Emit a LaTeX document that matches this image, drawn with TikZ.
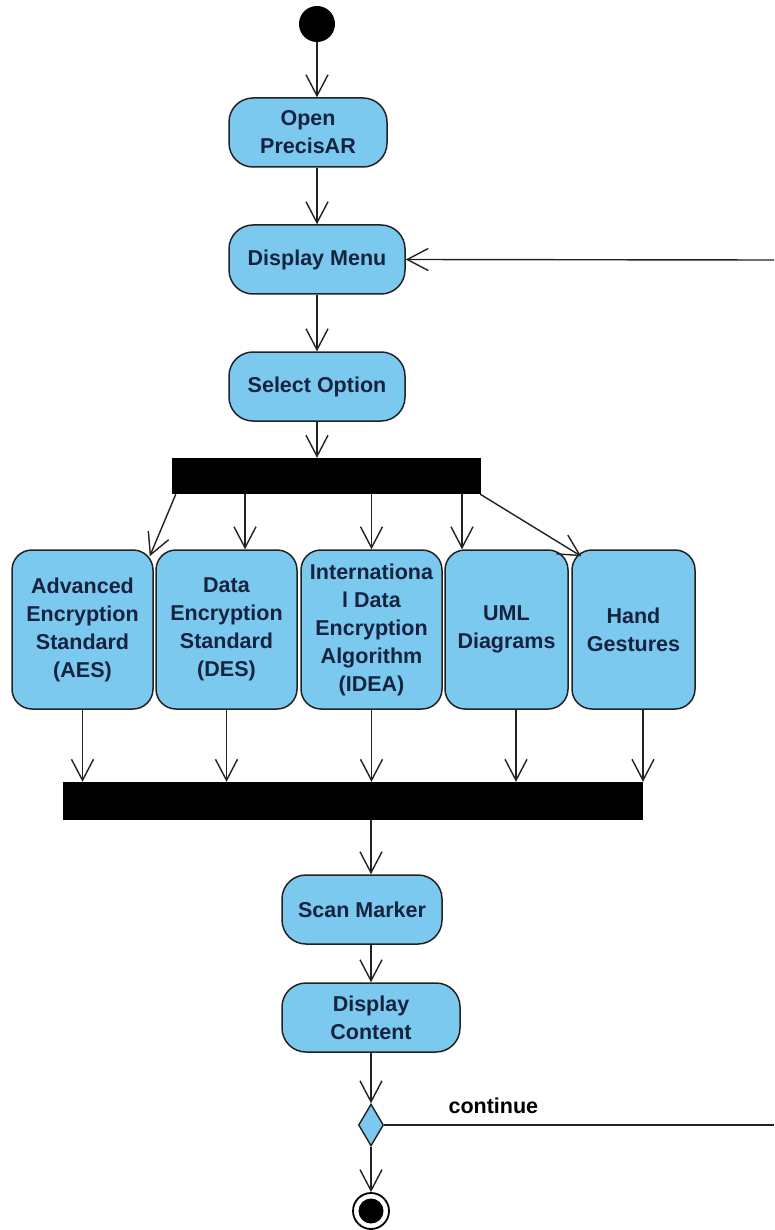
\documentclass[tikz,border=0pt]{standalone}
\usepackage{fontspec}
\setmainfont{Liberation Sans}
\usetikzlibrary{arrows.meta,shapes.geometric}
\definecolor{boxblue}{HTML}{7CC9EF}
\definecolor{txtcol}{HTML}{16233F}
\definecolor{linecol}{HTML}{222222}
\begin{document}
\begin{tikzpicture}[x=1pt,y=-1pt,
  act/.style={draw=linecol, fill=boxblue, rounded corners=24pt, line width=1.5pt,
    font=\bfseries\fontsize{21.5}{28}\selectfont, text=txtcol, align=center,
    inner sep=0pt, minimum height=69pt},
  tall/.style={act, rounded corners=20pt, minimum height=159pt},
  barnode/.style={fill=black, draw=none, inner sep=0pt},
  flow/.style={draw=linecol, line width=1.4pt,
    -{Straight Barb[length=21pt,width=22pt,line width=1.4pt]}},
  plain/.style={draw=linecol, line width=1.4pt},
]
\fill[white] (0,0) rectangle (774,1230);
\useasboundingbox (0,0) rectangle (774,1230);

% nodes
\node[circle, fill=black, minimum size=36pt, inner sep=0pt] (start) at (317,24) {};
\node[act, minimum width=158pt] (open) at (308,132.5) {Open\\PrecisAR};
\node[act, minimum width=176pt] (menu) at (317,259.5) {Display Menu};
\node[act, minimum width=176pt] (select) at (317,386.5) {Select Option};
\node[barnode, minimum width=309pt, minimum height=36pt] (fork) at (326.5,476) {};

\node[tall, minimum width=141pt] (aes) at (82.5,629.5) {Advanced\\Encryption\\Standard\\(AES)};
\node[tall, minimum width=141pt] (des) at (226.5,629.5) {Data\\Encryption\\Standard\\(DES)};
\node[tall, minimum width=141pt] (idea) at (371.5,629.5) {Internationa\\l Data\\Encryption\\Algorithm\\(IDEA)};
\node[tall, minimum width=123pt] (uml) at (506.5,629.5) {UML\\Diagrams};
\node[tall, minimum width=123pt] (hand) at (633.5,629.5) {Hand\\Gestures};

\node[barnode, minimum width=580pt, minimum height=38pt] (join) at (353,801) {};
\node[act, minimum width=160pt] (scan) at (362,909.5) {Scan Marker};
\node[act, minimum width=178pt] (content) at (371,1017.5) {Display\\Content};
\node[diamond, draw=linecol, fill=boxblue, line width=1.4pt, inner sep=0pt,
      minimum width=25pt, minimum height=42pt] (dec) at (371,1125) {};
\node[circle, draw=black, line width=1.8pt, minimum size=36pt, inner sep=0pt] (end) at (371,1211) {};
\fill[black] (end.center) circle (12.5pt);

% helper x positions
\coordinate (xdes) at (245,0);
\coordinate (xuml) at (462,0);
\coordinate (xumlj) at (516,0);
\coordinate (xhandj) at (643,0);
\coordinate (loopA) at (774,1125);
\coordinate (loopB) at (774,260);

% connectors
\draw[flow] (start.south) -- (start.south |- open.north);
\draw[flow] (menu.north |- open.south) -- (menu.north);
\draw[flow] (menu) -- (select);
\draw[flow] (select.south) -- (select.south |- fork.north);

\draw[flow] ([xshift=4pt]fork.south west) -- ([shift={(-4,7)}]aes.north east);
\draw[flow] (xdes |- fork.south) -- (xdes |- des.north);
\draw[flow] (idea.north |- fork.south) -- (idea.north);
\draw[flow] (xuml |- fork.south) -- (xuml |- uml.north);
\draw[flow] ([xshift=-1pt]fork.south east) -- ([shift={(10,7)}]hand.north west);

\draw[flow] (aes.south) -- (aes.south |- join.north);
\draw[flow] (des.south) -- (des.south |- join.north);
\draw[flow] (idea.south) -- (idea.south |- join.north);
\draw[flow] (xumlj |- uml.south) -- (xumlj |- join.north);
\draw[flow] (xhandj |- hand.south) -- (xhandj |- join.north);

\draw[flow] (content.north |- join.south) -- (content.north |- scan.north);
\draw[flow] (content.north |- scan.south) -- (content.north);
\draw[flow] (content) -- (dec);
\draw[flow] (dec) -- (end);

\draw[plain] (dec.east) -- node[pos=0.28, above, yshift=7pt, text=black,
   font=\bfseries\fontsize{21.5}{28}\selectfont] {continue} (loopA);
\draw[flow] (loopB) -- (menu.east);
\end{tikzpicture}
\end{document}
